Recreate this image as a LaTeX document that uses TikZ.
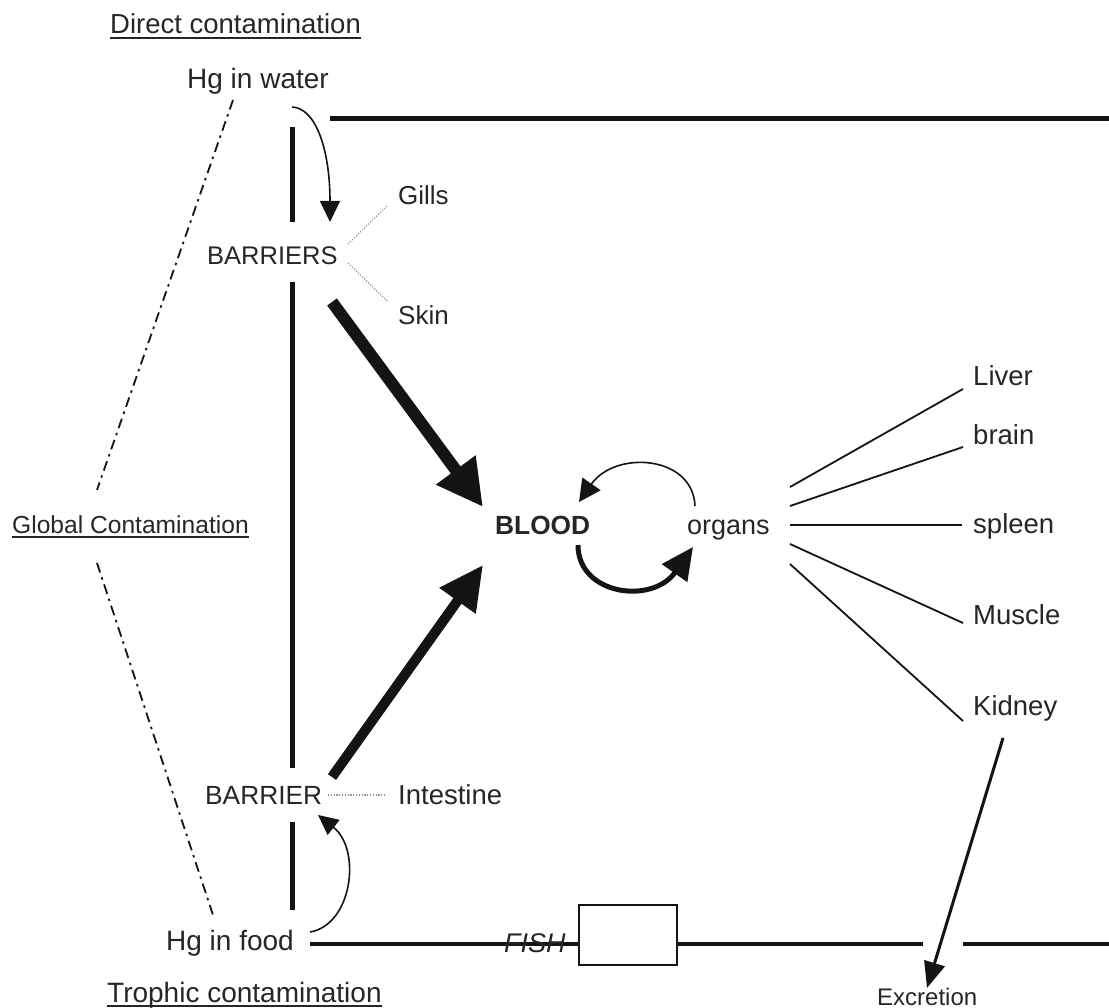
\documentclass[tikz,border=0pt]{standalone}
\usepackage{fontspec}
\setmainfont{Liberation Sans}
\usetikzlibrary{arrows.meta}
\definecolor{txt}{HTML}{262626}
\definecolor{ink}{HTML}{141414}
\begin{document}
\begin{tikzpicture}[x=1pt,y=-1pt,
  lbl/.style={inner sep=0pt, anchor=base west, text=txt, font=\fontsize{27.5}{30}\selectfont},
  lblsm/.style={lbl, font=\fontsize{25.5}{30}\selectfont},
  uline/.style={draw=txt, line width=1.3pt},
  wall/.style={draw=ink, line width=5pt},
  thin arrow/.style={draw=ink, line width=1.6pt, -{Triangle[length=21pt,width=20pt]}},
  dotlink/.style={draw=gray!85, line width=1.2pt, dash pattern=on 1.2pt off 1.6pt},
  dashdot/.style={draw=ink, line width=1.8pt, dash pattern=on 10pt off 5pt on 2.5pt off 5pt},
  organline/.style={draw=ink, line width=1.8pt},
  fishbox/.style={draw=ink, line width=1.8pt, fill=white, minimum width=98pt, minimum height=60pt, inner sep=0pt}]
\fill[white] (0,0) rectangle (1109,1008);
\useasboundingbox (0,0) rectangle (1109,1008);

% ---- texts ----
\node[lbl] (direct) at (110,34) {Direct contamination};
\draw[uline] ([yshift=-4pt]direct.base west) -- ([yshift=-4pt]direct.base east);
\node[lbl, font=\fontsize{28}{30}\selectfont] (hgw) at (187,89) {Hg in water};
\node[lblsm] (barriers) at (207,265) {BARRIERS};
\node[lbl, font=\fontsize{26}{30}\selectfont] (gills) at (398,205) {Gills};
\node[lbl, font=\fontsize{26}{30}\selectfont] (skin) at (398,325) {Skin};
\node[lbl, font=\bfseries\fontsize{26.3}{30}\selectfont] (blood) at (495,534) {BLOOD};
\node[lbl, font=\fontsize{27}{30}\selectfont] (organs) at (687,534) {organs};
\node[lbl] (liver) at (973,386) {Liver};
\node[lbl] (brain) at (973,444) {brain};
\node[lbl] (spleen) at (973,533) {spleen};
\node[lbl] (muscle) at (973,624) {Muscle};
\node[lbl] (kidney) at (973,715) {Kidney};
\node[lbl, font=\fontsize{24.6}{30}\selectfont] (global) at (12,533) {Global Contamination};
\draw[uline] ([yshift=-4pt]global.base west) -- ([yshift=-4pt]global.base east);
\node[lbl, font=\fontsize{26.3}{30}\selectfont] (barrier) at (205,804) {BARRIER};
\node[lbl] (intestine) at (398,804) {Intestine};
\node[lbl, font=\fontsize{28}{30}\selectfont] (hgf) at (166,950) {Hg in food};
\node[lbl, font=\fontsize{28}{30}\selectfont] (trophic) at (107,1002) {Trophic contamination};
\draw[uline] ([yshift=-4pt]trophic.base west) -- ([yshift=-4pt]trophic.base east);
\node[lbl, font=\fontsize{24}{30}\selectfont] (excretion) at (877,1005) {Excretion};

% ---- fish body walls ----
\coordinate (wt1) at (292,127); \coordinate (wb1) at (292,222);
\coordinate (wt2) at (292,282); \coordinate (wb2) at (292,768);
\coordinate (wt3) at (292,822); \coordinate (wb3) at (292,910);
\draw[wall] (wt1) -- (wb1);
\draw[wall] (wt2) -- (wb2);
\draw[wall] (wt3) -- (wb3);
\coordinate (topL) at (330,119); \coordinate (topR) at (1109,119);
\draw[wall] (topL) -- (topR);
\node[fishbox] (box) at (628,935) {};
\coordinate (botL) at (310,944);
\coordinate (gapL) at (923,944); \coordinate (gapR) at (963,944);
\coordinate (botR) at (1109,944);
\draw[draw=ink, line width=4.5pt] (botL) -- (box.west |- botL);
\draw[draw=ink, line width=4.5pt] (box.east |- botL) -- (gapL);
\draw[draw=ink, line width=4.5pt] (gapR) -- (botR);
\node[lbl, font=\itshape\fontsize{27}{30}\selectfont] (fish) at (504,952) {FISH};

% ---- global contamination links ----
\coordinate (dd1) at (233,100); \coordinate (dd2) at (97,490);
\coordinate (dd3) at (97,563); \coordinate (dd4) at (213,915);
\draw[dashdot] (dd1) -- (dd2);
\draw[dashdot] (dd3) -- (dd4);

% ---- entry arrows ----
\coordinate (hgwS) at (292,107); \coordinate (barIn) at (330,222);
\draw[thin arrow] (hgwS) .. controls (316,108) and (330,150) .. (barIn);
\coordinate (hgfS) at (310,932); \coordinate (barIn2) at (318,815);
\draw[thin arrow, -{Triangle[length=20pt,width=19pt]}] (hgfS) .. controls (352,925) and (362,850) .. (barIn2);

% ---- dotted barrier links ----
\coordinate (bg1) at (348,244); \coordinate (bg2) at (388,205);
\coordinate (bs1) at (348,263); \coordinate (bs2) at (388,302);
\draw[dotlink] (bg1) -- (bg2);
\draw[dotlink] (bs1) -- (bs2);
\coordinate (bi1) at (328,795); \coordinate (bi2) at (385,795);
\draw[dotlink] (bi1) -- (bi2);

% ---- thick arrows to blood ----
\coordinate (a1s) at (332,302); \coordinate (a1e) at (483,507);
\draw[draw=ink, line width=12pt, -{Triangle[length=46pt,width=46pt]}] (a1s) -- (a1e);
\coordinate (a2s) at (332,777); \coordinate (a2e) at (483,565);
\draw[draw=ink, line width=10pt, -{Triangle[length=44pt,width=42pt]}] (a2s) -- (a2e);

% ---- blood / organs cycle ----
\coordinate (c1s) at (695,506); \coordinate (c1e) at (579,502);
\draw[thin arrow, -{Triangle[length=22pt,width=22pt]}] (c1s) .. controls (693,455) and (615,450) .. (c1e);
\coordinate (c2s) at (578,545); \coordinate (c2e) at (693,547);
\draw[draw=ink, line width=5pt, -{Triangle[length=32pt,width=30pt]}] (c2s) .. controls (578,595) and (652,605) .. (c2e);

% ---- organ lines ----
\coordinate (o1) at (790,487); \coordinate (l1) at (963,389);
\coordinate (o2) at (790,506); \coordinate (l2) at (963,447);
\coordinate (o3) at (790,525); \coordinate (l3) at (962,525);
\coordinate (o4) at (790,544); \coordinate (l4) at (963,623);
\coordinate (o5) at (790,564); \coordinate (l5) at (963,721);
\draw[organline] (o1) -- (l1);
\draw[organline] (o2) -- (l2);
\draw[organline] (o3) -- (l3);
\draw[organline] (o4) -- (l4);
\draw[organline] (o5) -- (l5);

% ---- excretion ----
\coordinate (exS) at (1003,738); \coordinate (exE) at (927,988);
\draw[draw=ink, line width=3pt, -{Triangle[length=26pt,width=21pt]}] (exS) -- (exE);
\end{tikzpicture}
\end{document}
